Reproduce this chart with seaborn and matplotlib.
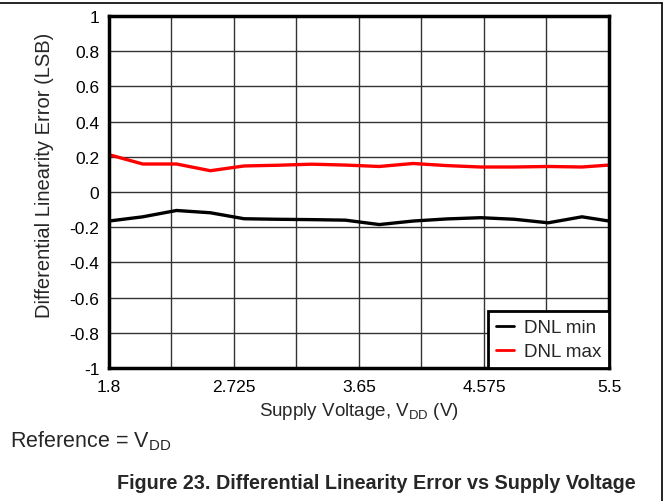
import matplotlib
matplotlib.use("Agg")
import matplotlib.pyplot as plt
import seaborn as sns
import pandas as pd
import numpy as np

voltage = [1.8, 2.05, 2.3, 2.55, 2.8, 3.05, 3.3, 3.55, 3.8, 4.05, 4.3, 4.55, 4.8, 5.05, 5.3, 5.5]
dnl_min = [-0.165, -0.141, -0.105, -0.118, -0.152, -0.155, -0.157, -0.160, -0.185, -0.165,
           -0.153, -0.146, -0.155, -0.175, -0.141, -0.165]
dnl_max = [0.212, 0.159, 0.159, 0.121, 0.148, 0.152, 0.158, 0.153, 0.145, 0.162,
           0.150, 0.142, 0.142, 0.145, 0.142, 0.153]
x_ticks = [1.8, 2.725, 3.65, 4.575, 5.5]
x_tick_labels = ["1.8", "2.725", "3.65", "4.575", "5.5"]
y_ticks = [-1, -0.8, -0.6, -0.4, -0.2, 0, 0.2, 0.4, 0.6, 0.8, 1]
y_tick_labels = ["-1", "-0.8", "-0.6", "-0.4", "-0.2", "0", "0.2", "0.4", "0.6", "0.8", "1"]

df = pd.DataFrame({
    "Voltage": voltage * 2,
    "DNL": dnl_min + dnl_max,
    "Series": ["DNL min"] * len(voltage) + ["DNL max"] * len(voltage),
})

sns.set_theme(style="white")
plt.rcParams["font.family"] = ["Liberation Sans", "DejaVu Sans"]
plt.rcParams["axes.unicode_minus"] = False

W, H = 669, 502
fig = plt.figure(figsize=(W/100, H/100), dpi=100)
ax = fig.add_axes([109/W, 1-369/H, 500/W, 352/H])

sns.lineplot(data=df, x="Voltage", y="DNL", hue="Series",
             palette={"DNL min": "black", "DNL max": "#ff0000"},
             linewidth=2.4, ax=ax, legend=True)

ax.set_xlim(1.8, 5.5)
ax.set_ylim(-1, 1)
ax.set_xticks(x_ticks)
ax.set_xticklabels(x_tick_labels, fontsize=12.5)
ax.set_yticks(y_ticks)
ax.set_yticklabels(y_tick_labels, fontsize=12.5)
ax.set_xticks(np.linspace(1.8, 5.5, 9), minor=True)
ax.grid(True, which="both", axis="x", color="#333333", linewidth=1)
ax.grid(True, which="major", axis="y", color="#333333", linewidth=1)
ax.tick_params(axis="x", which="both", length=0, pad=8, colors="black")
ax.tick_params(axis="y", which="both", length=0, pad=7, colors="black")
for s in ax.spines.values():
    s.set_linewidth(2.5)
    s.set_color("black")
ax.set_axisbelow(True)

ax.set_xlabel("Supply Voltage, V$_{\\mathregular{DD}}$ (V)", fontsize=13.5, va="center")
ax.xaxis.set_label_coords(0.5, (369-411)/352)
ax.set_ylabel("Differential Linearity Error (LSB)", fontsize=14.5, va="center")
ax.yaxis.set_label_coords((45-109)/500, (369-175)/352)

leg = ax.legend(loc="lower right", fontsize=13.5, frameon=True, fancybox=False,
                borderaxespad=0, handlelength=1.0, handletextpad=0.5,
                labelspacing=0.35, borderpad=0.42)
leg.get_frame().set_edgecolor("black")
leg.get_frame().set_linewidth(2)
leg.get_frame().set_facecolor("white")
leg.get_frame().set_alpha(1)
for line in leg.get_lines():
    line.set_linewidth(2)

fig.text(10/W, 1-441/H, "Reference = V$_{\\mathregular{DD}}$", fontsize=15.5, va="center", ha="left")
fig.text(376/W, 1-484/H, "Figure 23. Differential Linearity Error vs Supply Voltage",
         fontsize=14.2, fontweight="bold", va="center", ha="center")

fig.add_artist(plt.Line2D([0, 662/W], [1-4/H, 1-4/H], color="black", linewidth=1.2, transform=fig.transFigure))
fig.add_artist(plt.Line2D([662/W, 662/W], [0, 1-4/H], color="black", linewidth=1.2, transform=fig.transFigure))

fig.savefig("out.png", dpi=100)
